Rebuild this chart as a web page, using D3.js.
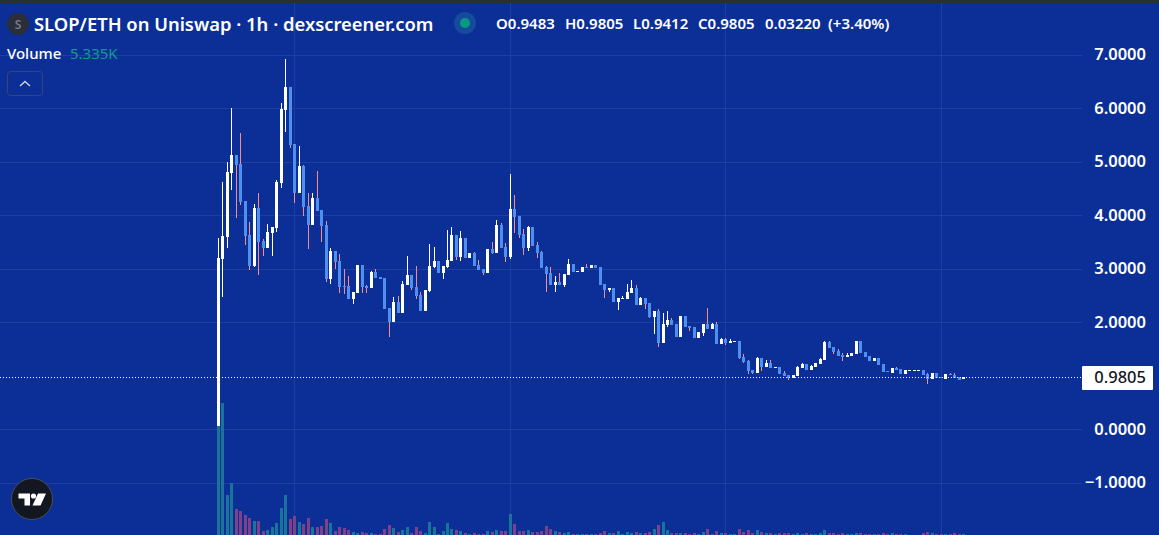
<!DOCTYPE html>
<html>
<head>
<meta charset="utf-8">
<script src="https://cdn.jsdelivr.net/npm/d3@7"></script>
<style>
html, body { margin: 0; padding: 0; background: #0b2f96; overflow: hidden; }
text { font-family: "Noto Sans", sans-serif; }
</style>
</head>
<body>
<div id="vis-container"></div>
<script>
const opens = [
    0.07,3.19,3.60,4.79,5.13,4.96,4.27,3.64,3.06,4.14,
    3.52,3.39,3.67,3.77,4.61,5.97,6.40,5.34,4.42,4.93,
    4.18,3.82,4.33,4.10,3.82,2.81,3.34,3.15,2.68,2.68,
    2.44,2.55,3.07,2.68,2.64,2.94,2.85,2.83,2.27,2.01,
    2.38,2.18,2.70,2.89,2.66,2.51,2.21,2.59,3.04,3.15,
    2.93,3.04,3.15,3.64,3.22,3.58,3.21,3.30,3.07,3.00,
    2.93,3.37,3.30,3.82,3.41,3.22,4.12,3.99,3.65,3.39,
    3.79,3.45,3.32,3.04,2.93,2.70,2.76,2.70,2.89,3.09,
    2.94,2.94,3.04,3.02,3.07,3.04,2.72,2.61,2.64,2.38,
    2.44,2.44,2.55,2.64,2.33,2.46,2.36,2.10,2.21,1.62,
    1.95,2.05,1.97,1.73,2.12,1.93,1.92,1.71,1.80,1.97,
    1.88,1.97,1.60,1.69,1.62,1.64,1.65,1.36,1.28,1.11,
    1.06,1.34,1.17,1.24,1.15,1.17,1.06,1.02,0.96,1.00,
    1.15,1.22,1.11,1.17,1.22,1.30,1.64,1.54,1.47,1.39,
    1.36,1.37,1.41,1.65,1.45,1.37,1.28,1.34,1.22,1.09,
    1.06,1.15,1.13,1.04,1.09,1.09,1.09,1.11,1.04,0.94,
    1.06,0.98,0.94,1.04,1.02,0.98,0.9483
];
const highs = [
    3.58,4.63,5.00,6.01,5.13,5.54,4.27,3.88,4.21,4.42,
    3.56,3.84,3.79,4.66,6.10,6.93,6.40,5.34,5.30,4.94,
    4.42,4.42,4.83,4.10,3.90,3.39,3.34,3.28,3.00,2.87,
    2.57,3.07,3.07,2.70,2.96,3.00,2.85,2.83,2.27,2.48,
    2.50,2.78,3.24,2.89,3.06,2.57,2.61,3.47,3.41,3.15,
    3.06,3.73,3.79,3.64,3.71,3.58,3.30,3.32,3.17,3.00,
    3.37,3.50,3.92,3.86,3.49,4.78,4.38,3.99,3.75,3.80,
    3.79,3.50,3.34,3.06,3.04,2.87,2.93,2.91,3.19,3.09,
    2.96,3.04,3.09,3.07,3.07,3.04,2.72,2.64,2.64,2.46,
    2.50,2.72,2.79,2.70,2.48,2.46,2.36,2.21,2.25,2.18,
    2.21,2.08,1.97,2.12,2.12,1.93,1.92,1.82,1.97,2.27,
    1.99,2.01,1.71,1.71,1.69,1.65,1.65,1.41,1.30,1.11,
    1.36,1.34,1.30,1.30,1.17,1.17,1.09,1.02,1.02,1.19,
    1.24,1.22,1.21,1.24,1.34,1.65,1.65,1.54,1.50,1.43,
    1.43,1.43,1.65,1.65,1.45,1.37,1.34,1.34,1.22,1.09,
    1.15,1.17,1.13,1.11,1.11,1.11,1.11,1.11,1.06,1.06,
    1.06,0.98,1.04,1.06,1.06,0.98,0.9805
];
const lows = [
    0.07,2.48,3.39,4.48,3.95,4.20,3.45,2.98,3.04,2.89,
    3.24,3.39,3.24,3.69,4.51,5.56,5.26,4.23,4.42,3.99,
    3.37,3.82,4.08,3.50,2.76,2.72,3.00,2.55,2.53,2.44,
    2.35,2.55,2.55,2.55,2.64,2.83,2.81,2.25,1.73,2.01,
    2.18,2.18,2.70,2.61,2.44,2.21,2.21,2.57,3.02,2.93,
    2.81,3.02,3.15,3.17,3.15,3.21,3.21,3.06,2.98,2.89,
    2.93,3.28,3.30,3.39,3.13,3.19,3.67,3.58,3.26,3.34,
    3.43,3.21,3.02,2.57,2.70,2.57,2.70,2.66,2.89,2.94,
    2.94,2.94,3.02,3.02,3.02,2.70,2.46,2.57,2.38,2.23,
    2.44,2.44,2.55,2.33,2.33,2.25,2.08,1.79,1.54,1.62,
    1.92,1.95,1.73,1.73,1.92,1.84,1.71,1.71,1.75,1.88,
    1.88,1.60,1.60,1.58,1.62,1.64,1.32,1.24,1.04,1.04,
    1.06,1.09,1.17,1.15,1.15,1.04,1.00,0.93,0.96,1.00,
    1.15,1.11,1.11,1.17,1.22,1.30,1.52,1.41,1.37,1.28,
    1.36,1.37,1.41,1.43,1.36,1.28,1.28,1.21,1.07,1.07,
    1.06,1.11,1.04,1.04,1.09,1.09,1.09,1.02,0.85,0.94,
    0.96,0.96,0.94,1.02,0.96,0.93,0.9412
];
const closes = [
    3.21,3.62,4.81,5.13,4.94,4.25,3.62,3.06,4.14,3.50,
    3.39,3.69,3.79,4.63,5.99,6.40,5.32,4.42,4.93,4.16,
    3.82,4.33,4.08,3.80,2.81,3.34,3.13,2.66,2.66,2.44,
    2.57,3.07,2.66,2.64,2.94,2.83,2.81,2.25,2.01,2.38,
    2.18,2.72,2.89,2.64,2.50,2.21,2.61,3.06,3.15,2.93,
    3.06,3.17,3.64,3.22,3.58,3.21,3.30,3.06,2.98,2.93,
    3.37,3.30,3.82,3.39,3.22,4.12,3.97,3.64,3.39,3.79,
    3.43,3.30,3.02,2.91,2.70,2.76,2.70,2.91,3.09,2.94,
    2.96,3.04,3.02,3.07,3.02,2.70,2.61,2.64,2.38,2.46,
    2.46,2.57,2.64,2.33,2.46,2.35,2.10,2.21,1.62,1.97,
    2.05,1.95,1.73,2.12,1.92,1.90,1.71,1.82,1.97,1.88,
    1.97,1.60,1.69,1.62,1.65,1.65,1.34,1.26,1.09,1.06,
    1.34,1.17,1.24,1.15,1.17,1.04,1.00,0.96,1.02,1.17,
    1.22,1.11,1.19,1.24,1.32,1.64,1.52,1.45,1.37,1.36,
    1.39,1.43,1.65,1.43,1.36,1.28,1.34,1.21,1.07,1.07,
    1.15,1.11,1.04,1.11,1.11,1.11,1.11,1.02,0.94,1.06,
    0.96,0.96,1.04,1.02,0.96,0.93,0.9805
];
// volume in thousands, the last one is the 5.335K of the legend
const volumes = [
    650,660,200,260,130,120,100,85,70,70,
    20,25,40,60,135,200,80,95,65,55,
    85,40,40,45,80,60,20,40,35,25,
    15,10,15,10,10,5,5,30,50,35,
    15,25,40,10,40,20,10,65,40,5,
    20,60,30,25,20,10,5,10,5,5,
    20,15,25,20,20,105,55,20,20,25,
    15,15,20,45,30,20,15,10,15,5,
    5,5,5,5,5,10,20,10,10,20,
    5,15,10,15,10,10,15,30,50,65,
    25,10,10,10,10,5,10,5,15,30,
    5,20,10,10,5,5,30,15,25,10,
    25,15,10,10,5,10,10,10,5,10,
    5,10,5,5,10,25,10,10,5,10,
    5,5,10,10,5,5,5,5,10,5,
    10,5,5,5,0,0,0,10,15,10,
    5,5,5,5,10,5,5.335
];
const priceTicks = [7, 6, 5, 4, 3, 2, 0, -1];
const timeTicks = [17, 65, 113, 161];
const lastPrice = 0.9805;

const width = 1159, height = 535;
const gridColor = "#1f3f9f";

const svg = d3.select("#vis-container")
    .append("svg")
    .attr("width", width)
    .attr("height", height)
    .style("display", "block");

const x = d3.scaleLinear().domain([0, 166]).range([218.5, 963.84]);
const y = d3.scaleLinear().domain([7, -1]).range([55, 483]);
const volY = d3.scaleLinear().domain([0, 660]).range([535, 403]);

svg.append("rect").attr("width", width).attr("height", height).attr("fill", "#0b2f96");
svg.append("rect").attr("width", width).attr("height", 3).attr("fill", "#2a2e39");

// grid
const grid_g = svg.append("g").attr("shape-rendering", "crispEdges");
grid_g.selectAll(".h").data(priceTicks).enter().append("line")
    .attr("x1", 0).attr("x2", 1082)
    .attr("y1", d => Math.floor(y(d)) + 0.5).attr("y2", d => Math.floor(y(d)) + 0.5)
    .attr("stroke", gridColor);
grid_g.selectAll(".v").data(timeTicks).enter().append("line")
    .attr("x1", d => Math.floor(x(d)) + 0.5).attr("x2", d => Math.floor(x(d)) + 0.5)
    .attr("y1", 3).attr("y2", height)
    .attr("stroke", gridColor);

const isUp = i => closes[i] >= opens[i];
const px = i => Math.floor(x(i));

// volume
svg.append("g").attr("shape-rendering", "crispEdges")
    .selectAll("rect").data(volumes).enter().append("rect")
    .attr("x", (d, i) => px(i) - 1)
    .attr("width", 3)
    .attr("y", d => volY(d))
    .attr("height", d => volY(0) - volY(d))
    .attr("fill", (d, i) => isUp(i) ? "#18749a" : "#7d4188");

// candles
const candles = svg.append("g").attr("shape-rendering", "crispEdges")
    .selectAll("g").data(d3.range(opens.length)).enter().append("g");
candles.append("line")
    .attr("x1", i => px(i) + 0.5).attr("x2", i => px(i) + 0.5)
    .attr("y1", i => y(highs[i])).attr("y2", i => y(lows[i]))
    .attr("stroke", i => isUp(i) ? "#ffffff" : "#f28e8e");
candles.append("rect")
    .attr("x", i => px(i) - 1)
    .attr("width", 3)
    .attr("y", i => y(Math.max(opens[i], closes[i])))
    .attr("height", i => Math.max(1, Math.abs(y(opens[i]) - y(closes[i]))))
    .attr("fill", i => isUp(i) ? "#ffffff" : "#4f8ff0");

// last price line
svg.append("line")
    .attr("x1", 0).attr("x2", 1082)
    .attr("y1", Math.floor(y(lastPrice)) + 0.5).attr("y2", Math.floor(y(lastPrice)) + 0.5)
    .attr("stroke", "#ffffff")
    .attr("stroke-width", 1)
    .attr("stroke-dasharray", "1 2")
    .attr("shape-rendering", "crispEdges");

// price axis
const axis_g = svg.append("g")
    .attr("transform", "translate(1146,-0.5)")
    .call(d3.axisRight(y).tickValues(priceTicks).tickFormat(d3.format(".4f")).tickSize(0));
axis_g.select(".domain").remove();
axis_g.selectAll("text")
    .attr("x", 0)
    .attr("text-anchor", "end")
    .attr("fill", "#ffffff")
    .attr("font-family", "Noto Sans")
    .attr("font-size", 16.5)
    .attr("font-weight", 600);

svg.append("rect")
    .attr("x", 1082).attr("y", 366)
    .attr("width", 71).attr("height", 24)
    .attr("rx", 1)
    .attr("fill", "#ffffff");
svg.append("text")
    .attr("x", 1146).attr("y", y(lastPrice) + 6)
    .attr("text-anchor", "end")
    .attr("fill", "#131722")
    .attr("font-size", 16.5)
    .attr("font-weight", 500)
    .text(d3.format(".4f")(lastPrice));

// header
svg.append("circle").attr("cx", 18).attr("cy", 24).attr("r", 11).attr("fill", "#2a2e39");
svg.append("text")
    .attr("x", 18).attr("y", 28.5)
    .attr("text-anchor", "middle")
    .attr("fill", "#787b86")
    .attr("font-size", 12)
    .attr("font-weight", 600)
    .text("S");
svg.append("text")
    .attr("x", 34).attr("y", 31)
    .attr("fill", "#ffffff")
    .attr("font-size", 18.4)
    .attr("font-weight", 600)
    .text("SLOP/ETH on Uniswap · 1h · dexscreener.com");
svg.append("circle").attr("cx", 465).attr("cy", 23).attr("r", 11).attr("fill", "#164a9c");
svg.append("circle").attr("cx", 465).attr("cy", 23).attr("r", 5).attr("fill", "#089981");

const legend = [
    ["O0.9483", 496], ["H0.9805", 565], ["L0.9412", 633],
    ["C0.9805", 698], ["0.03220", 765], ["(+3.40%)", 828]
];
svg.selectAll(".ohlc").data(legend).enter().append("text")
    .attr("x", d => d[1]).attr("y", 29)
    .attr("fill", "#ffffff")
    .attr("font-size", 15)
    .attr("font-family", "Open Sans")
    .attr("font-weight", 600)
    .text(d => d[0]);

svg.append("text")
    .attr("x", 7).attr("y", 59)
    .attr("fill", "#ffffff")
    .attr("font-size", 15)
    .attr("font-weight", 500)
    .text("Volume");
svg.append("text")
    .attr("x", 70).attr("y", 59)
    .attr("fill", "#0f9d8a")
    .attr("font-size", 15)
    .text("5.335K");

// collapse button
svg.append("rect")
    .attr("x", 7.5).attr("y", 71.5)
    .attr("width", 35).attr("height", 24)
    .attr("rx", 3)
    .attr("fill", "none")
    .attr("stroke", "#34437e");
svg.append("path")
    .attr("d", "M20 86 L25 81.5 L30 86")
    .attr("fill", "none")
    .attr("stroke", "#d1d4dc")
    .attr("stroke-width", 1.4);

// logo
svg.append("circle")
    .attr("cx", 32).attr("cy", 499).attr("r", 20.5)
    .attr("fill", "#131722")
    .attr("stroke", "#4a4d57")
    .attr("stroke-width", 1);
svg.append("path")
    .attr("fill", "#ffffff")
    .attr("d", "M18.5 493.5 H30 V505.5 H24.5 V498.5 H18.5 Z M38 493.5 H46 L40.5 505.5 H32.5 Z");
svg.append("circle").attr("cx", 33.5).attr("cy", 496).attr("r", 2.6).attr("fill", "#ffffff");
</script>
</body>
</html>
